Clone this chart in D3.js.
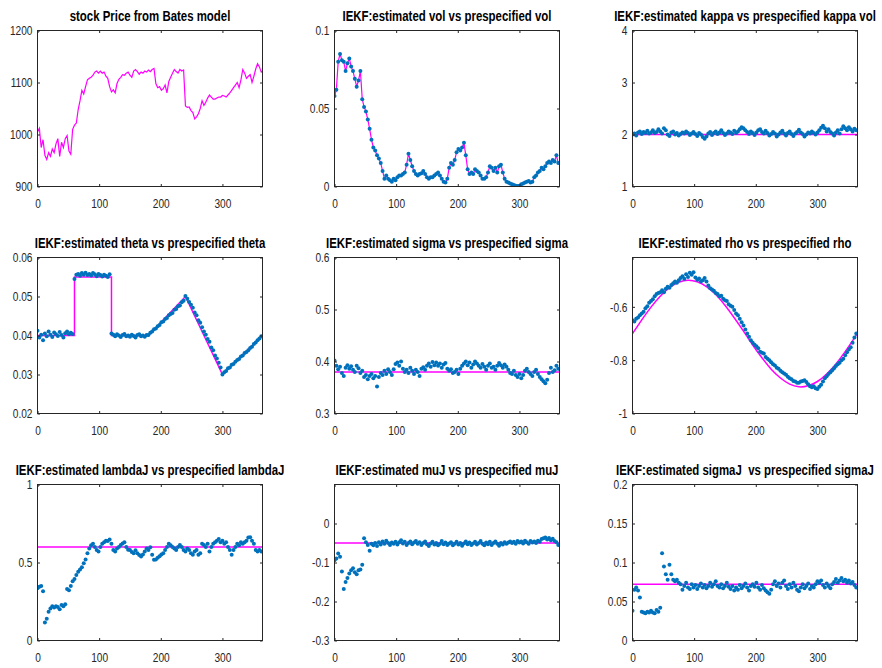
<!DOCTYPE html>
<html>
<head>
<meta charset="utf-8">
<script src="https://cdn.jsdelivr.net/npm/d3@7"></script>
<style>
  body { margin: 0; background: #fff; }
  svg { display: block; font-family: "Liberation Sans", Arial, Helvetica, sans-serif; }
  .title { font-size: 14.3px; font-weight: bold; fill: #000; white-space: pre; }
  .tick text { font-size: 13.5px; fill: #262626; }
</style>
</head>
<body>
<script>
// ---- data (one value every 3 days, day 0..363) ----
const lastDay = 365;
const dayStep = 3;
const xTicks = [0, 100, 200, 300];

const titles = [
  "stock Price from Bates model",
  "IEKF:estimated vol vs prespecified vol",
  "IEKF:estimated kappa vs prespecified kappa vol",
  "IEKF:estimated theta vs prespecified theta",
  "IEKF:estimated sigma vs prespecified sigma",
  "IEKF:estimated rho vs prespecified rho",
  "IEKF:estimated lambdaJ vs prespecified lambdaJ",
  "IEKF:estimated muJ vs prespecified muJ",
  "IEKF:estimated sigmaJ  vs prespecified sigmaJ"
];

const stockPrice = [1005,1012,975,990,960,952,965,958,972,965,982,992,958,985,975,992,998,968,962,1010,
  1018,1022,1048,1065,1085,1078,1092,1105,1108,1110,1114,1120,1122,1118,1122,1118,1120,1112,1108,1092,
  1082,1086,1080,1098,1106,1110,1115,1114,1118,1120,1114,1110,1122,1125,1121,1116,1120,1118,1122,1120,
  1124,1121,1125,1127,1098,1090,1092,1085,1088,1095,1080,1102,1110,1118,1125,1121,1118,1125,1122,1124,
  1055,1052,1053,1046,1042,1030,1034,1040,1050,1065,1056,1062,1070,1076,1072,1068,1068,1070,1072,1072,
  1075,1074,1072,1076,1080,1085,1090,1095,1100,1090,1105,1125,1118,1108,1112,1115,1100,1112,1126,1136,
  1130,1120,1122];

const volEst = [0.058,0.062,0.080,0.085,0.081,0.080,0.074,0.079,0.082,0.077,0.074,0.069,0.064,0.068,0.074,
  0.056,0.051,0.048,0.043,0.037,0.030,0.025,0.023,0.020,0.018,0.015,0.010,0.005,0.007,0.005,
  0.004,0.003,0.005,0.004,0.006,0.007,0.007,0.008,0.009,0.014,0.021,0.017,0.013,0.010,0.008,
  0.007,0.008,0.0085,0.010,0.008,0.006,0.005,0.006,0.006,0.007,0.008,0.009,0.007,0.005,0.003,
  0.0025,0.005,0.012,0.015,0.014,0.017,0.022,0.024,0.023,0.025,0.028,0.020,0.011,0.008,0.009,
  0.008,0.011,0.010,0.009,0.007,0.005,0.005,0.006,0.009,0.013,0.012,0.010,0.012,0.009,0.013,
  0.014,0.009,0.005,0.003,0.0025,0.002,0.0015,0.001,0.0005,0.0003,0.0005,0.0015,0.002,0.0025,0.003,
  0.0035,0.0025,0.003,0.006,0.007,0.009,0.010,0.012,0.011,0.013,0.015,0.016,0.015,0.017,0.016,
  0.020,0.015];

const kappaEst = [2.00,2.02,1.98,2.04,2.06,2.01,2.05,2.03,2.07,2.02,2.04,2.08,2.03,2.05,2.10,2.06,2.02,2.12,2.08,2.00,
  1.97,2.04,2.06,2.00,2.03,1.98,2.01,2.04,2.02,2.06,2.03,1.99,2.02,2.05,2.01,1.97,2.03,2.00,1.95,1.92,
  1.96,2.02,2.05,1.99,2.03,2.06,2.01,2.04,2.08,2.03,1.99,2.02,2.06,2.04,2.01,2.07,2.03,2.06,2.10,2.14,
  2.12,2.08,2.05,2.01,2.06,2.03,1.99,2.04,2.08,2.10,2.05,2.02,2.07,2.03,1.98,2.01,2.05,2.02,1.96,2.00,
  2.04,2.07,2.02,1.98,2.03,2.06,2.01,1.97,2.02,2.05,2.09,2.04,2.01,1.96,2.00,2.04,2.02,2.06,2.03,2.00,
  2.04,2.08,2.13,2.17,2.12,2.06,2.10,2.05,2.02,1.98,2.04,2.08,2.02,2.10,2.16,2.12,2.08,2.14,2.10,2.06,
  2.11,2.08];
const kappaTrue = 2;

const thetaEst = [0.0412,0.0395,0.0402,0.0388,0.0405,0.0398,0.0410,0.0402,0.0396,0.0408,0.0403,0.0399,0.0409,0.0401,0.0395,0.0406,0.0410,0.0403,0.0407,0.0404,
  0.0545,0.0556,0.0558,0.0553,0.0560,0.0556,0.0561,0.0555,0.0558,0.0554,0.0560,0.0557,0.0552,0.0558,0.0555,0.0551,0.0556,0.0553,0.0550,0.0557,
  0.0405,0.0402,0.0398,0.0403,0.0400,0.0396,0.0401,0.0404,0.0398,0.0400,0.0397,0.0402,0.0399,0.0395,0.0401,0.0403,0.0398,0.0400,0.0397,0.0401,
  0.0401,0.0407,0.0410,0.0416,0.0418,0.0424,0.0427,0.0434,0.0436,0.0442,0.0445,0.0452,0.0455,0.0458,0.0466,0.0468,0.0475,0.0477,0.0485,0.0489,
  0.0501,0.0494,0.0486,0.0479,0.0471,0.0459,0.0452,0.0439,0.0433,0.0421,0.0410,0.0402,0.0391,0.0384,0.0369,0.0362,0.0349,0.0341,0.0330,0.0318,
  0.0300,0.0306,0.0309,0.0316,0.0318,0.0325,0.0327,0.0333,0.0337,0.0340,0.0346,0.0349,0.0355,0.0358,0.0362,0.0368,0.0371,0.0378,0.0382,0.0388,
  0.0392,0.0398];
const thetaTrueDays = [0, 60, 60, 120, 120, 180, 240, 300, 365];
const thetaTrueVals = [0.040, 0.040, 0.055, 0.055, 0.040, 0.040, 0.050, 0.030, 0.040];

const sigmaEst = [0.402,0.392,0.385,0.390,0.378,0.372,0.388,0.393,0.386,0.391,0.384,0.380,0.392,0.387,0.378,0.382,0.370,0.374,0.366,0.372,
  0.376,0.368,0.372,0.352,0.370,0.378,0.374,0.382,0.376,0.385,0.380,0.374,0.385,0.395,0.398,0.392,0.400,0.386,0.380,0.384,
  0.378,0.388,0.382,0.376,0.384,0.380,0.372,0.386,0.389,0.384,0.392,0.396,0.390,0.399,0.393,0.398,0.392,0.396,0.388,0.394,
  0.397,0.386,0.382,0.385,0.378,0.380,0.384,0.376,0.386,0.392,0.396,0.400,0.393,0.398,0.388,0.394,0.400,0.396,0.392,0.388,
  0.395,0.390,0.384,0.392,0.396,0.388,0.390,0.384,0.392,0.397,0.393,0.388,0.394,0.390,0.384,0.378,0.376,0.382,0.374,0.370,
  0.376,0.368,0.374,0.382,0.386,0.380,0.376,0.372,0.380,0.384,0.376,0.370,0.366,0.362,0.358,0.365,0.378,0.388,0.380,0.383,
  0.392,0.386];
const sigmaTrue = 0.38;

const rhoEst = [-0.650,-0.655,-0.645,-0.640,-0.632,-0.625,-0.618,-0.605,-0.598,-0.585,-0.578,-0.572,-0.560,-0.552,-0.548,-0.545,-0.538,-0.545,-0.532,-0.525,
  -0.528,-0.518,-0.512,-0.505,-0.510,-0.500,-0.492,-0.485,-0.495,-0.478,-0.488,-0.472,-0.480,-0.470,-0.490,-0.498,-0.494,-0.505,-0.500,-0.492,
  -0.505,-0.520,-0.530,-0.535,-0.540,-0.548,-0.552,-0.560,-0.558,-0.570,-0.575,-0.578,-0.590,-0.596,-0.600,-0.612,-0.625,-0.632,-0.645,-0.658,
  -0.670,-0.685,-0.700,-0.712,-0.725,-0.735,-0.742,-0.748,-0.755,-0.768,-0.772,-0.775,-0.788,-0.795,-0.800,-0.808,-0.815,-0.820,-0.828,-0.832,
  -0.840,-0.845,-0.850,-0.855,-0.862,-0.868,-0.872,-0.878,-0.880,-0.885,-0.885,-0.880,-0.878,-0.875,-0.882,-0.890,-0.898,-0.902,-0.898,-0.905,
  -0.908,-0.900,-0.892,-0.880,-0.868,-0.860,-0.852,-0.845,-0.838,-0.830,-0.822,-0.815,-0.810,-0.800,-0.795,-0.782,-0.770,-0.760,-0.752,-0.735,
  -0.715,-0.700];
const rhoTrueDays = [0,15,30,45,60,75,90,105,120,135,150,165,180,195,210,225,240,255,270,285,300,315,330,345,360,365];
const rhoTrueVals = [-0.700,-0.649,-0.601,-0.560,-0.528,-0.508,-0.500,-0.506,-0.524,-0.554,-0.594,-0.641,-0.691,
  -0.743,-0.791,-0.834,-0.867,-0.890,-0.900,-0.896,-0.880,-0.852,-0.814,-0.768,-0.717,-0.700];

const lambdaJEst = [0.335,0.345,0.350,0.315,0.115,0.140,0.185,0.205,0.220,0.212,0.220,0.215,0.200,0.228,0.220,0.232,0.330,0.322,0.350,0.380,
  0.395,0.420,0.440,0.455,0.470,0.495,0.520,0.560,0.590,0.610,0.620,0.600,0.580,0.570,0.600,0.620,0.630,0.640,0.638,0.648,
  0.620,0.580,0.570,0.590,0.600,0.612,0.622,0.630,0.600,0.582,0.580,0.568,0.560,0.578,0.560,0.548,0.538,0.552,0.570,0.590,
  0.580,0.598,0.550,0.518,0.520,0.530,0.540,0.552,0.560,0.580,0.600,0.620,0.610,0.600,0.590,0.580,0.600,0.612,0.600,0.580,
  0.570,0.590,0.580,0.560,0.550,0.570,0.580,0.550,0.560,0.620,0.612,0.600,0.620,0.570,0.600,0.620,0.630,0.640,0.650,0.630,
  0.640,0.620,0.630,0.600,0.580,0.550,0.580,0.600,0.620,0.610,0.630,0.620,0.630,0.640,0.660,0.662,0.640,0.620,0.580,0.570,
  0.580,0.570];
const lambdaJTrue = 0.6;

const muJEst = [-0.094,-0.090,-0.077,-0.085,-0.123,-0.168,-0.150,-0.140,-0.128,-0.120,-0.115,-0.125,-0.130,-0.120,-0.118,-0.106,-0.038,-0.048,-0.055,-0.070,
  -0.052,-0.056,-0.050,-0.058,-0.048,-0.054,-0.046,-0.052,-0.044,-0.050,-0.055,-0.049,-0.052,-0.047,-0.054,-0.048,-0.043,-0.051,-0.047,-0.055,
  -0.050,-0.046,-0.053,-0.049,-0.045,-0.052,-0.048,-0.055,-0.050,-0.046,-0.053,-0.058,-0.051,-0.047,-0.054,-0.050,-0.056,-0.052,-0.045,-0.053,
  -0.049,-0.055,-0.051,-0.048,-0.056,-0.052,-0.047,-0.054,-0.050,-0.057,-0.051,-0.046,-0.053,-0.049,-0.055,-0.051,-0.047,-0.054,-0.050,-0.045,
  -0.052,-0.056,-0.049,-0.053,-0.047,-0.055,-0.050,-0.046,-0.052,-0.057,-0.050,-0.054,-0.048,-0.052,-0.049,-0.046,-0.050,-0.047,-0.052,-0.045,
  -0.049,-0.046,-0.051,-0.044,-0.048,-0.052,-0.045,-0.049,-0.046,-0.050,-0.044,-0.047,-0.040,-0.038,-0.036,-0.041,-0.037,-0.043,-0.039,-0.045,
  -0.048,-0.055];
const muJTrue = -0.05;

const sigmaJEst = [0.038,0.065,0.068,0.064,0.055,0.037,0.036,0.035,0.037,0.036,0.038,0.036,0.035,0.039,0.037,0.042,0.112,0.095,0.085,0.078,
  0.097,0.085,0.078,0.076,0.078,0.074,0.072,0.065,0.070,0.074,0.068,0.066,0.072,0.068,0.071,0.066,0.070,0.073,0.068,0.071,
  0.067,0.070,0.074,0.069,0.072,0.076,0.070,0.068,0.072,0.067,0.070,0.074,0.069,0.066,0.070,0.064,0.068,0.065,0.071,0.067,
  0.070,0.073,0.068,0.064,0.070,0.072,0.069,0.074,0.068,0.065,0.071,0.067,0.064,0.062,0.060,0.065,0.072,0.076,0.070,0.073,
  0.068,0.074,0.077,0.070,0.066,0.072,0.068,0.074,0.070,0.065,0.063,0.068,0.072,0.067,0.070,0.073,0.066,0.070,0.068,0.072,
  0.076,0.074,0.077,0.071,0.068,0.073,0.070,0.067,0.072,0.075,0.079,0.074,0.077,0.080,0.076,0.078,0.074,0.077,0.073,0.075,
  0.071,0.068];
const sigmaJTrue = 0.072;

const yDomains = [[900, 1200], [0, 0.1], [1, 4], [0.02, 0.06], [0.3, 0.6], [-1, -0.415], [0, 1], [-0.3, 0.1], [0, 0.2]];
const yTicks = [[900, 1000, 1100, 1200], [0, 0.05, 0.1], [1, 2, 3, 4], [0.02, 0.03, 0.04, 0.05, 0.06],
  [0.3, 0.4, 0.5, 0.6], [-1, -0.8, -0.6], [0, 0.5, 1], [-0.3, -0.2, -0.1, 0], [0, 0.05, 0.1, 0.15, 0.2]];

// ---- helpers to turn arrays into [day, value] pairs ----
const byIndex = arr => arr.map((v, i) => [Math.min(i * dayStep, lastDay), v]);
const zip = (days, vals) => days.map((d, i) => [d, vals[i]]);
const flat = v => [[0, v], [lastDay, v]];

const panels = [
  { est: null, truth: byIndex(stockPrice), lw: 1.2 },
  { est: byIndex(volEst), truth: byIndex(volEst), lw: 1.2 },
  { est: byIndex(kappaEst), truth: flat(kappaTrue) },
  { est: byIndex(thetaEst), truth: zip(thetaTrueDays, thetaTrueVals) },
  { est: byIndex(sigmaEst), truth: flat(sigmaTrue) },
  { est: byIndex(rhoEst), truth: zip(rhoTrueDays, rhoTrueVals), curve: d3.curveNatural },
  { est: byIndex(lambdaJEst), truth: flat(lambdaJTrue) },
  { est: byIndex(muJEst), truth: flat(muJTrue) },
  { est: byIndex(sigmaJEst), truth: flat(sigmaJTrue) }
];

// ---- layout ----
const W = 882, H = 668;
const colLeft = [37.5, 334.5, 632.5];
const rowTop = [30.5, 257.5, 484.5];
const pw = 225, ph = 156;
const tickLen = 2.5;
const squeeze = 0.75;      // narrow (Helvetica Narrow-like) look of the figure text
const yPad = 5;
const fmt = d => String(+d.toFixed(3));

const svg = d3.select("body").append("svg").attr("width", W).attr("height", H);

panels.forEach((p, k) => {
  const left = colLeft[k % 3], top = rowTop[Math.floor(k / 3)];
  const x = d3.scaleLinear().domain([0, lastDay]).range([0, pw]);
  const y = d3.scaleLinear().domain(yDomains[k]).range([ph, 0]);

  const g = svg.append("g").attr("transform", `translate(${left},${top})`);

  g.append("clipPath").attr("id", "clip" + k)
    .append("rect").attr("width", pw).attr("height", ph);

  const plot = g.append("g").attr("clip-path", `url(#clip${k})`);

  const line = d3.line().x(d => x(d[0])).y(d => y(d[1]));
  if (p.curve) line.curve(p.curve);

  plot.append("path").datum(p.truth)
    .attr("d", line)
    .attr("fill", "none")
    .attr("stroke", "#ff00ff")
    .attr("stroke-width", p.lw || 1.5);

  if (p.est) {
    plot.selectAll("circle").data(p.est).enter().append("circle")
      .attr("cx", d => x(d[0]))
      .attr("cy", d => y(d[1]))
      .attr("r", 2)
      .attr("fill", "#0072bd");
  }

  // axes (ticks point inward, box on)
  const bottom = g.append("g").attr("transform", `translate(0,${ph})`)
    .call(d3.axisBottom(x).tickValues(xTicks).tickSize(-tickLen).tickSizeOuter(0).tickPadding(11.5).tickFormat(fmt));
  const leftAx = g.append("g")
    .call(d3.axisLeft(y).tickValues(yTicks[k]).tickSize(-tickLen).tickSizeOuter(0).tickFormat(fmt));
  const topAx = g.append("g")
    .call(d3.axisTop(x).tickValues(xTicks).tickSize(-tickLen).tickSizeOuter(0).tickFormat(""));
  const rightAx = g.append("g").attr("transform", `translate(${pw},0)`)
    .call(d3.axisRight(y).tickValues(yTicks[k]).tickSize(-tickLen).tickSizeOuter(0).tickFormat(""));

  [bottom, leftAx, topAx, rightAx].forEach(a => {
    a.select(".domain").remove();
    a.selectAll("line").attr("stroke", "#262626");
    a.attr("font-family", null).attr("font-size", null);
  });
  bottom.selectAll("text").attr("transform", `scale(${squeeze},1)`);
  leftAx.selectAll("text").attr("x", -yPad / squeeze).attr("transform", `scale(${squeeze},1)`);

  g.append("rect").attr("width", pw).attr("height", ph)
    .attr("fill", "none").attr("stroke", "#262626").attr("stroke-width", 1);

  g.append("text").attr("class", "title")
    .attr("transform", `translate(${pw / 2},-10) scale(0.8,1)`)
    .attr("text-anchor", "middle")
    .text(titles[k]);
});
</script>
</body>
</html>
